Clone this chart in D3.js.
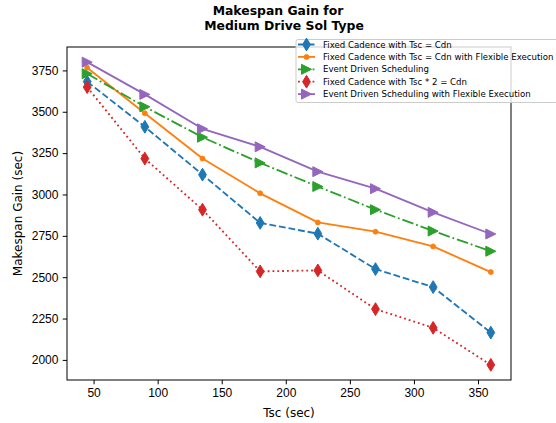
<!DOCTYPE html>
<html>
<head>
<script src="https://cdn.jsdelivr.net/npm/d3@7"></script>
<style>
  body { margin: 0; background: #fff; }
  svg { font-family: "DejaVu Sans", sans-serif; }
  .axis path.domain { display: none; }
  .axis line { stroke: #000; stroke-width: 1; }
  .axis text { font-size: 12px; fill: #000; }
</style>
</head>
<body>
<script>
// Tsc values (sec)
var tsc = [45, 90, 135, 180, 225, 270, 315, 360];

// Makespan gain per scheduling variant
var fixedCadence      = [3682, 3409, 3120, 2828, 2763, 2549, 2440, 2165];
var fixedCadenceFlex  = [3766, 3491, 3217, 3007, 2831, 2775, 2686, 2531];
var eventDriven       = [3730, 3530, 3346, 3191, 3048, 2908, 2779, 2657];
var fixedCadenceTwice = [3649, 3217, 2908, 2535, 2541, 2307, 2194, 1970];
var eventDrivenFlex   = [3800, 3605, 3397, 3288, 3138, 3035, 2892, 2761];

var seriesNames = [
  "Fixed Cadence with Tsc = Cdn",
  "Fixed Cadence with Tsc = Cdn with Flexible Execution",
  "Event Driven Scheduling",
  "Fixed Cadence with Tsc * 2 = Cdn",
  "Event Driven Scheduling with Flexible Execution"
];

var xTicks = [50, 100, 150, 200, 250, 300, 350];
var yTicks = [2000, 2250, 2500, 2750, 3000, 3250, 3500, 3750];

var lw = 1.83;
var styles = [
  { color: "#1f77b4", dash: "6.8,2.9",            marker: "thinDiamond" },
  { color: "#ff7f0e", dash: null,                 marker: "point" },
  { color: "#2ca02c", dash: "11.7,2.9,1.83,2.9",  marker: "triRight" },
  { color: "#d62728", dash: "1.83,3",             marker: "thinDiamond" },
  { color: "#9467bd", dash: null,                 marker: "triRight" }
];

var series = [fixedCadence, fixedCadenceFlex, eventDriven, fixedCadenceTwice, eventDrivenFlex]
  .map(function (vals, i) {
    return {
      name: seriesNames[i],
      style: styles[i],
      values: vals.map(function (v, j) { return { x: tsc[j], y: v }; })
    };
  });

var W = 556, H = 423;
var margin = { top: 47, right: 45, bottom: 43, left: 67 };

var svg = d3.select("body").append("svg")
  .attr("width", W)
  .attr("height", H);

// matplotlib-like 5% padding
var xExt = d3.extent(tsc);
var xPad = (xExt[1] - xExt[0]) * 0.05;
var allY = d3.merge(series.map(function (s) { return s.values.map(function (d) { return d.y; }); }));
var yExt = d3.extent(allY);
var yPad = (yExt[1] - yExt[0]) * 0.05;

var x = d3.scaleLinear()
  .domain([xExt[0] - xPad, xExt[1] + xPad])
  .range([margin.left, W - margin.right]);
var y = d3.scaleLinear()
  .domain([yExt[0] - yPad, yExt[1] + yPad])
  .range([H - margin.bottom, margin.top]);

// axes
svg.append("g")
  .attr("class", "axis")
  .attr("transform", "translate(0," + (H - margin.bottom) + ")")
  .call(d3.axisBottom(x).tickValues(xTicks).tickFormat(d3.format("d"))
    .tickSize(4.3).tickPadding(4.5).tickSizeOuter(0));

svg.append("g")
  .attr("class", "axis")
  .attr("transform", "translate(" + margin.left + ",0)")
  .call(d3.axisLeft(y).tickValues(yTicks).tickFormat(d3.format("d"))
    .tickSize(4.3).tickPadding(4.3).tickSizeOuter(0));

// lines + markers
function markerPath(type) {
  if (type === "thinDiamond") return "M0,-6.4L3.9,0L0,6.4L-3.9,0Z";
  if (type === "triRight") return "M5,0L-5,-5L-5,5Z";
  return null;
}

function drawMarker(g, type, color) {
  if (type === "point") {
    g.append("circle").attr("r", 2.5).attr("fill", color).attr("stroke", color).attr("stroke-width", 0.8);
  } else {
    g.append("path").attr("d", markerPath(type)).attr("fill", color)
      .attr("stroke", color).attr("stroke-width", 1).attr("stroke-linejoin", "miter");
  }
}

var line = d3.line()
  .x(function (d) { return x(d.x); })
  .y(function (d) { return y(d.y); });

var plot = svg.append("g");

series.forEach(function (s) {
  plot.append("path")
    .datum(s.values)
    .attr("d", line)
    .attr("fill", "none")
    .attr("stroke", s.style.color)
    .attr("stroke-width", lw)
    .attr("stroke-dasharray", s.style.dash)
    .attr("stroke-linejoin", "round");

  s.values.forEach(function (d) {
    var g = plot.append("g").attr("transform", "translate(" + x(d.x) + "," + y(d.y) + ")");
    drawMarker(g, s.style.marker, s.style.color);
  });
});

// frame
svg.append("rect")
  .attr("x", margin.left)
  .attr("y", margin.top)
  .attr("width", W - margin.left - margin.right)
  .attr("height", H - margin.top - margin.bottom)
  .attr("fill", "none")
  .attr("stroke", "#000")
  .attr("stroke-width", 1);

// axis labels
svg.append("text")
  .attr("x", (margin.left + W - margin.right) / 2)
  .attr("y", 417)
  .attr("text-anchor", "middle")
  .style("font-size", "12px")
  .text("Tsc (sec)");

svg.append("text")
  .attr("transform", "translate(22," + ((margin.top + H - margin.bottom) / 2) + ") rotate(-90)")
  .attr("text-anchor", "middle")
  .style("font-size", "12px")
  .text("Makespan Gain (sec)");

// title
var title = svg.append("text")
  .attr("text-anchor", "middle")
  .style("font-size", "12.4px")
  .style("font-weight", "bold");
title.append("tspan").attr("x", 278).attr("y", 15).text("Makespan Gain for");
title.append("tspan").attr("x", 284).attr("y", 30).text("Medium Drive Sol Type");

// legend
var legend = svg.append("g").attr("transform", "translate(296,39.5)");
legend.append("rect")
  .attr("width", 290)
  .attr("height", 63)
  .attr("rx", 2)
  .attr("fill", "#fff")
  .attr("fill-opacity", 0.8)
  .attr("stroke", "#ccc")
  .attr("stroke-width", 1);

series.forEach(function (s, i) {
  var row = legend.append("g").attr("transform", "translate(0," + (5 + i * 12.4) + ")");
  row.append("line")
    .attr("x1", 2).attr("x2", 19)
    .attr("stroke", s.style.color)
    .attr("stroke-width", lw)
    .attr("stroke-dasharray", s.style.dash);
  var m = row.append("g").attr("transform", "translate(10.5,0)");
  drawMarker(m, s.style.marker, s.style.color);
  row.append("text")
    .attr("x", 27)
    .attr("dy", "0.35em")
    .style("font-size", "8.6px")
    .text(s.name);
});
</script>
</body>
</html>
